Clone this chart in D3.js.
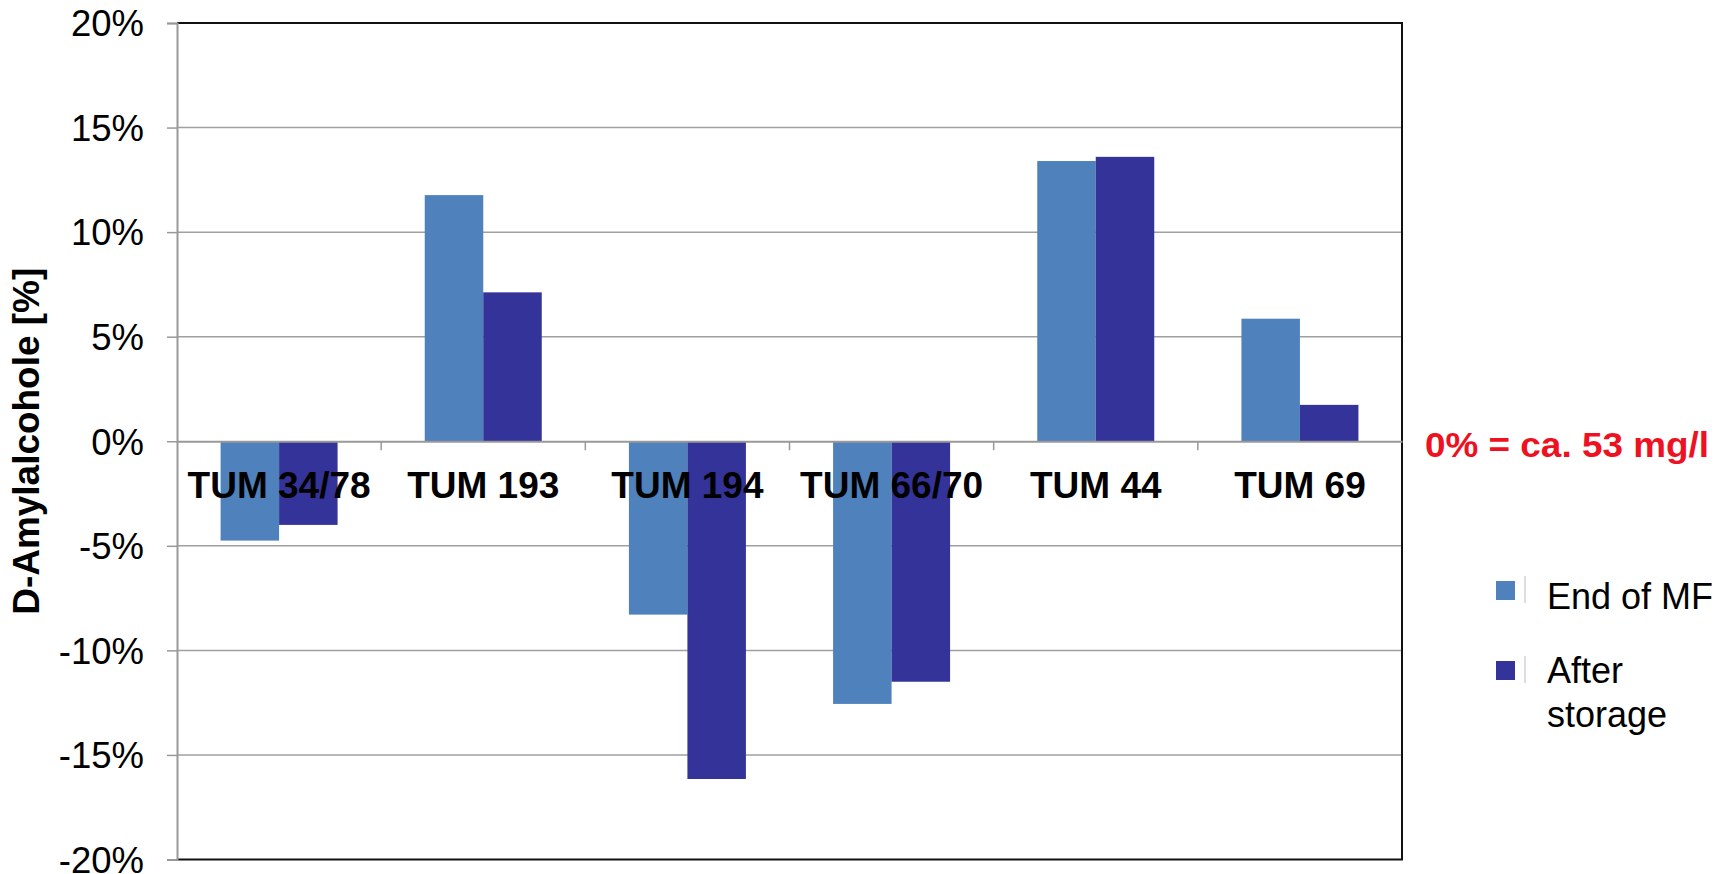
<!DOCTYPE html>
<html>
<head>
<meta charset="utf-8">
<script src="https://cdn.jsdelivr.net/npm/d3@7"></script>
<style>
  html, body { margin: 0; padding: 0; background: #fff; }
  svg { display: block; font-family: "Liberation Sans", Arial, sans-serif; }
</style>
</head>
<body>
<svg id="chart" width="1731" height="874"></svg>
<script>
const categories = ["TUM 34/78", "TUM 193", "TUM 194", "TUM 66/70", "TUM 44", "TUM 69"];
const seriesNames = ["End of MF", "After storage"];
const endOfMF = [-0.0475, 0.1177, -0.0829, -0.1256, 0.1340, 0.0586];
const afterStorage = [-0.0400, 0.0712, -0.1615, -0.1150, 0.1360, 0.0174];
const yTicks = [-0.2, -0.15, -0.1, -0.05, 0, 0.05, 0.1, 0.15, 0.2];
const colors = ["#4F81BD", "#343399"];
const noteText = "0% = ca. 53 mg/l";
const yTitle = "D-Amylalcohole [%]";

const svg = d3.select("#chart");
const L = 177, R = 1402, T = 23, B = 859.5;

const x = d3.scaleBand().domain(categories).range([L, R]).paddingInner(0).paddingOuter(0);
const xs = d3.scaleBand().domain(seriesNames).range([0, x.bandwidth()]).paddingInner(0).paddingOuter(0.745);
const y = d3.scaleLinear().domain([-0.2, 0.2]).range([B, T]);

// gridlines
svg.append("g").selectAll("line").data(yTicks.filter(v => v !== 0 && v !== 0.2 && v !== -0.2)).join("line")
  .attr("x1", L).attr("x2", R).attr("y1", d => y(d)).attr("y2", d => y(d))
  .attr("stroke", "#a0a0a0").attr("stroke-width", 1.5);

// bars
const series = [endOfMF, afterStorage];
const g = svg.append("g");
series.forEach((vals, si) => {
  g.selectAll(null).data(vals).join("rect")
    .attr("x", (d, i) => x(categories[i]) + xs(seriesNames[si]))
    .attr("width", xs.bandwidth())
    .attr("y", d => y(Math.max(0, d)))
    .attr("height", d => Math.abs(y(d) - y(0)))
    .attr("fill", colors[si]);
});

// border top/right/bottom
svg.append("line").attr("x1", L).attr("x2", R + 1).attr("y1", T).attr("y2", T).attr("stroke", "#111").attr("stroke-width", 2);
svg.append("line").attr("x1", R).attr("x2", R).attr("y1", T).attr("y2", B).attr("stroke", "#111").attr("stroke-width", 2);
svg.append("line").attr("x1", L).attr("x2", R + 1).attr("y1", B).attr("y2", B).attr("stroke", "#111").attr("stroke-width", 2);

// y axis
const yAxis = d3.axisLeft(y).tickValues(yTicks).tickSize(10).tickPadding(23)
  .tickFormat(d => Math.round(d * 100) + "%");
const ya = svg.append("g").attr("transform", `translate(${L},0)`).call(yAxis);
ya.select(".domain").attr("stroke", "#999").attr("stroke-width", 2);
ya.selectAll(".tick line").attr("stroke", "#999").attr("stroke-width", 1.5);
ya.selectAll(".tick text").attr("font-size", 36.5).attr("fill", "#000")
  .attr("font-family", "Liberation Sans, Arial, sans-serif").attr("dy", "0.35em");

// zero line with category ticks
const xAxis = d3.axisBottom(x).tickSize(0).tickFormat("");
const xa = svg.append("g").attr("transform", `translate(0,${y(0)})`).call(xAxis);
xa.select(".domain").attr("stroke", "#999").attr("stroke-width", 2);
xa.selectAll(".tick").remove();
const boundaries = categories.slice(1).map(c => x(c));
svg.append("g").selectAll("line").data(boundaries).join("line")
  .attr("x1", d => d).attr("x2", d => d).attr("y1", y(0)).attr("y2", y(0) + 9)
  .attr("stroke", "#999").attr("stroke-width", 1.5);

// category labels
svg.append("g").selectAll("text").data(categories).join("text")
  .attr("x", d => x(d) + x.bandwidth() / 2).attr("y", 498)
  .attr("text-anchor", "middle").attr("font-size", 37).attr("font-weight", "bold")
  .attr("fill", "#000").text(d => d);

// y title
svg.append("text").attr("transform", `translate(38.5,${(T + B) / 2}) rotate(-90)`)
  .attr("text-anchor", "middle").attr("font-size", 36).attr("font-weight", "bold")
  .attr("textLength", 347).attr("lengthAdjust", "spacingAndGlyphs")
  .text(yTitle);

// note
svg.append("text").attr("x", 1425).attr("y", 456.5).attr("font-size", 35).attr("font-weight", "bold")
  .attr("fill", "#EE1122").attr("textLength", 284).attr("lengthAdjust", "spacingAndGlyphs")
  .text(noteText);

// legend
const legY = [581, 661];
const legBase = [609, 683];
const legLines = [["End of MF"], ["After", "storage"]];
seriesNames.forEach((s, i) => {
  svg.append("rect").attr("x", 1496).attr("y", legY[i]).attr("width", 19).attr("height", 19).attr("fill", colors[i]);
  svg.append("line").attr("x1", 1525).attr("x2", 1525).attr("y1", legY[i] - 5).attr("y2", legY[i] + 22)
    .attr("stroke", "#bbb").attr("stroke-width", 1);
  const t = svg.append("text").attr("x", 1547).attr("y", legBase[i]).attr("font-size", 36).attr("fill", "#000");
  legLines[i].forEach((ln, j) => {
    t.append("tspan").attr("x", 1547).attr("dy", j === 0 ? 0 : 43.5).text(ln);
  });
});
</script>
</body>
</html>
